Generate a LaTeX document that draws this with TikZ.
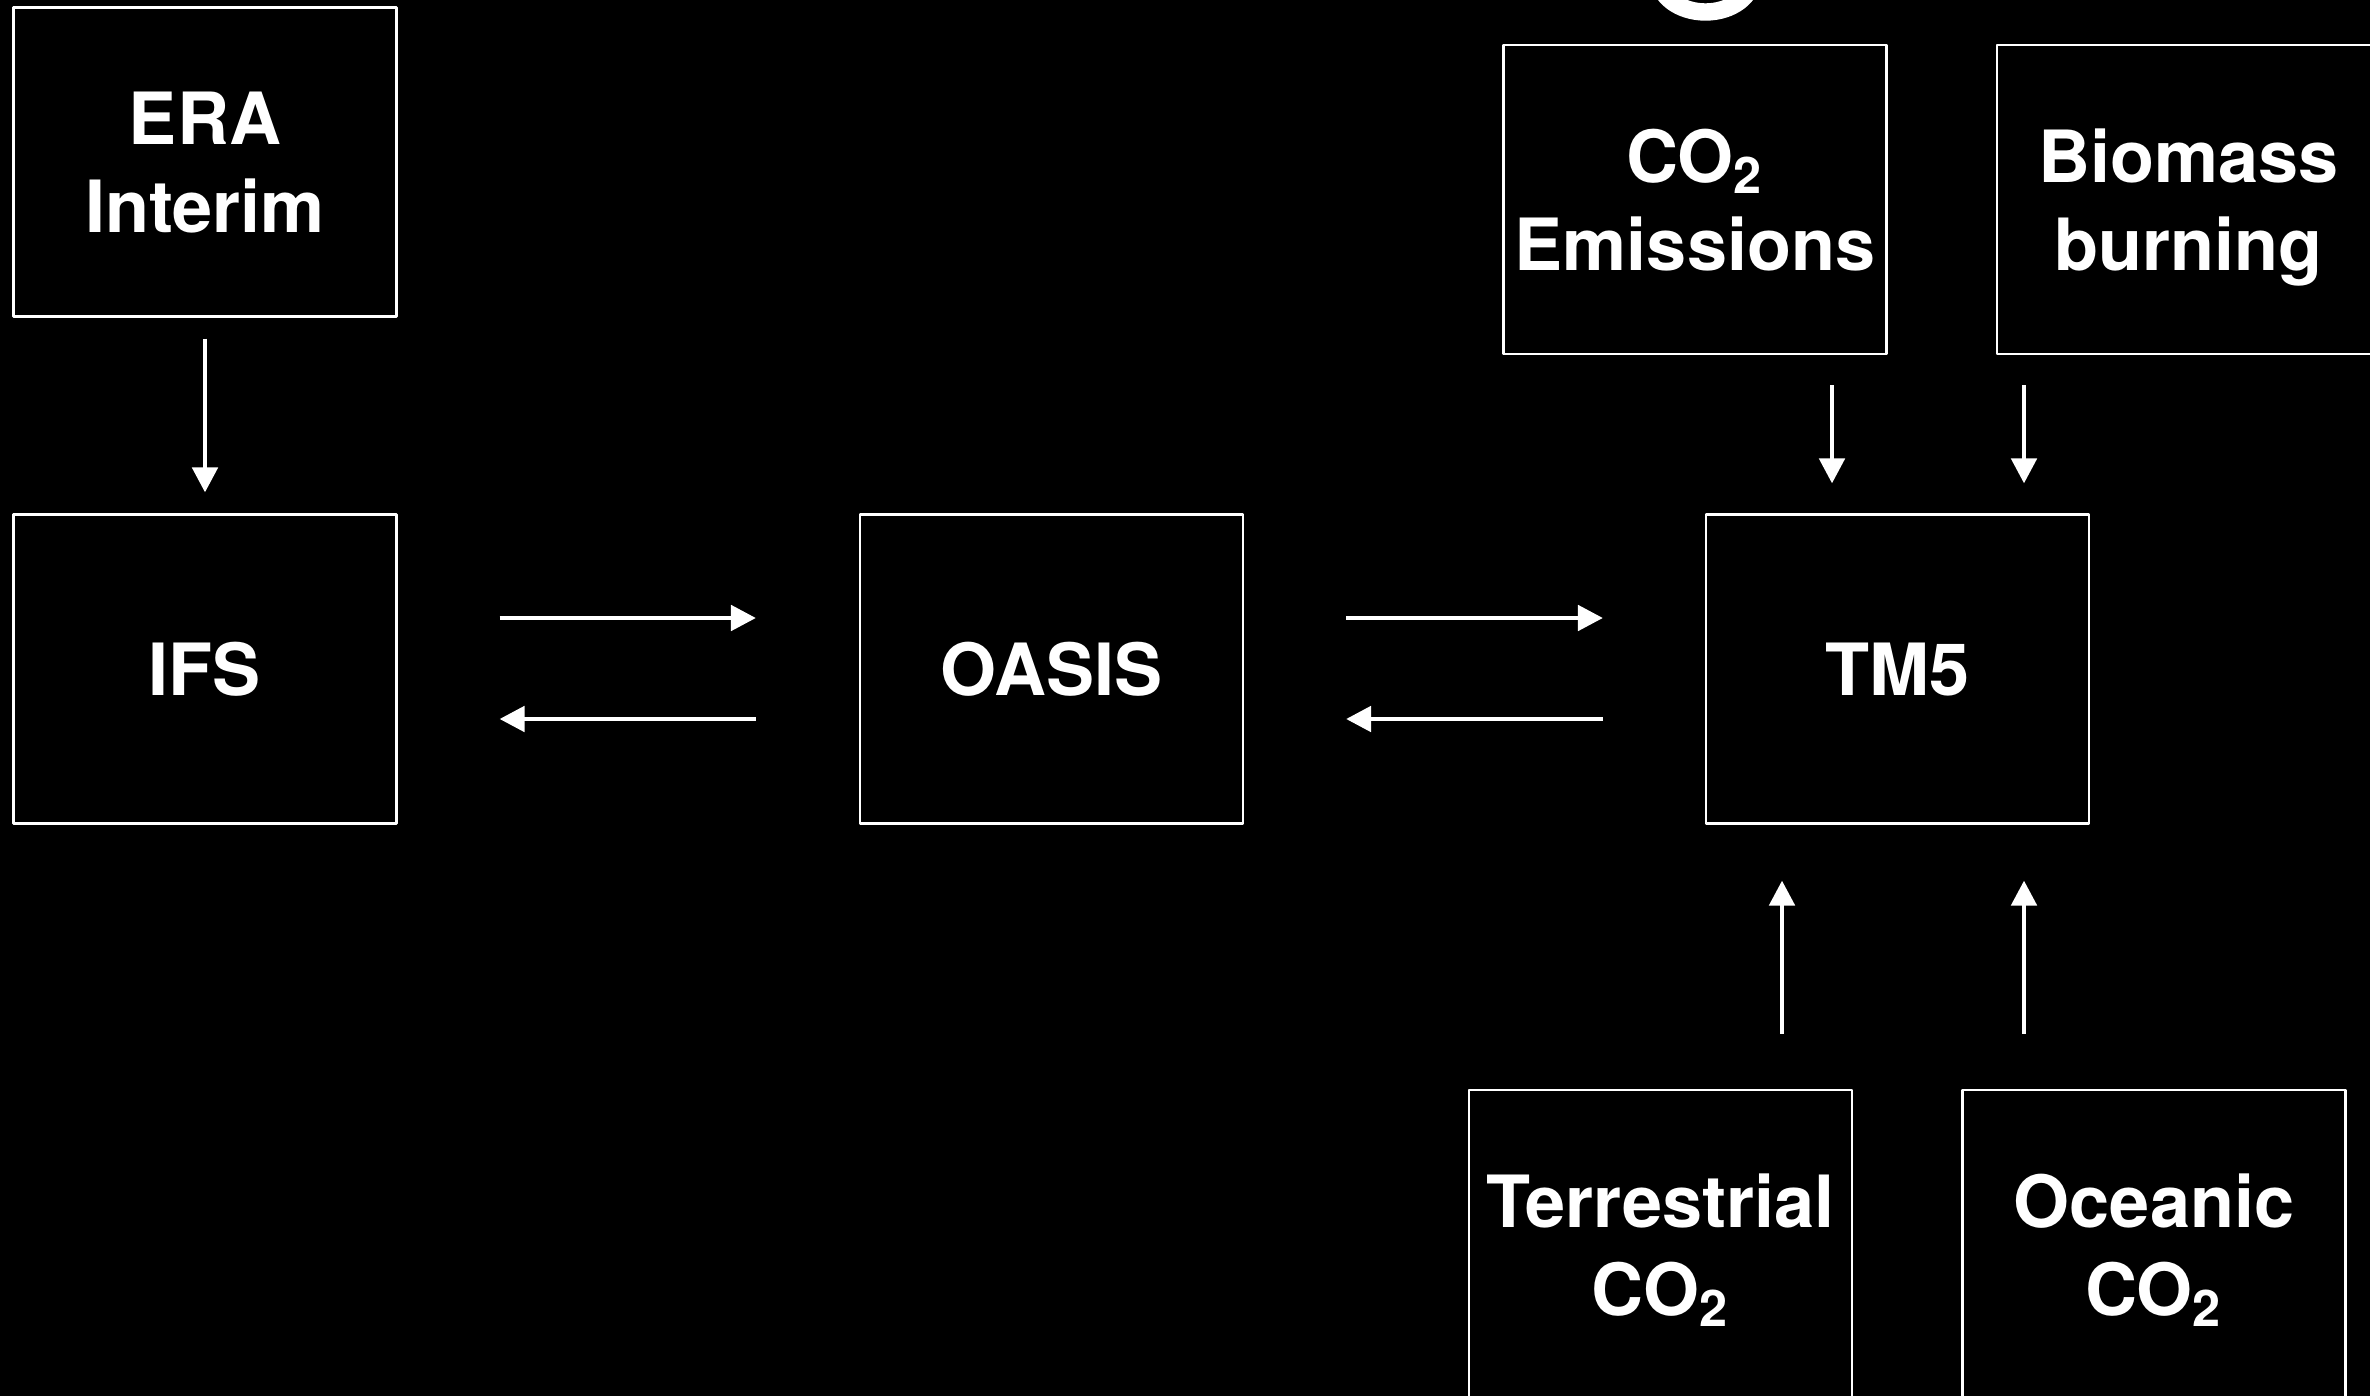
\documentclass[tikz,border=0pt]{standalone}
\usepackage{fontspec}
\setsansfont{TeX Gyre Heros}
\usepackage{tikz}
\usetikzlibrary{arrows.meta}

\begin{document}
\begin{tikzpicture}[line join=round,>={Triangle[length=0.25cm,width=0.25cm]},x=1cm,
y=1cm,
box/.style={draw=white,line width=0.6pt,text=white,align=center,inner sep=0pt,
minimum width=3.83cm,minimum height=3.09cm,text depth=0pt,
font=\sffamily\bfseries\fontsize{20.5}{25}\selectfont},
flow/.style={->,draw=white,line width=1.4pt}]
% Nền đen
\fill[black] (0,0) rectangle (23.7,13.96);
\useasboundingbox (0,0) rectangle (23.7,13.96);
\clip (0,0) rectangle (23.7,13.96);
% phần chữ bị cắt ở mép trên
\fill[white,even odd rule] (17.055,14.17) ellipse [x radius=0.55,y radius=0.417]
(17.055,14.17) ellipse [x radius=0.358,y radius=0.243];
% Các hộp
\node[box] (era) at (2.05,12.34) {ERA\\Interim};
\node[box] (ifs) at (2.05,7.27) {IFS};
\node[box] (oasis) at (10.515,7.27) {OASIS};
\node[box] (tm5) at (18.975,7.27) {TM5};
\node[box] (emis) at (16.95,11.965) {CO\textsubscript{2}\\Emissions};
\node[box] (bio) at (21.885,11.965) {Biomass\\burning};
\node[box] (terr) at (16.605,1.515) {Terrestrial\\CO\textsubscript{2}};
\node[box] (ocean) at (21.54,1.515) {Oceanic\\CO\textsubscript{2}};
% Các mũi tên
\draw[flow,shorten <=0.21cm,shorten >=0.21cm] (era) -- (ifs);
\draw[flow,shorten <=1.02cm,shorten >=1.03cm] ([yshift=0.51cm]ifs.east)
-- ([yshift=0.51cm]oasis.west);
\draw[flow,shorten <=1.03cm,shorten >=1.02cm] ([yshift=-0.5cm]oasis.west)
-- ([yshift=-0.5cm]ifs.east);
\draw[flow,shorten <=1.02cm,shorten >=1.02cm] ([yshift=0.51cm]oasis.east)
-- ([yshift=0.51cm]tm5.west);
\draw[flow,shorten <=1.02cm,shorten >=1.02cm] ([yshift=-0.5cm]tm5.west)
-- ([yshift=-0.5cm]oasis.east);
\coordinate (inA) at (18.32,0);
\coordinate (inB) at (20.24,0);
\coordinate (upA) at (17.82,0);
\draw[flow,shorten <=0.3cm,shorten >=0.3cm] (emis.south -| inA) -- (tm5.north -| inA);
\draw[flow,shorten <=0.3cm,shorten >=0.3cm] (bio.south -| inB) -- (tm5.north -| inB);
\draw[flow,shorten <=0.55cm,shorten >=0.56cm] (terr.north -| upA) -- (tm5.south -| upA);
\draw[flow,shorten <=0.55cm,shorten >=0.56cm] (ocean.north -| inB) -- (tm5.south -| inB);
\end{tikzpicture}
\end{document}
